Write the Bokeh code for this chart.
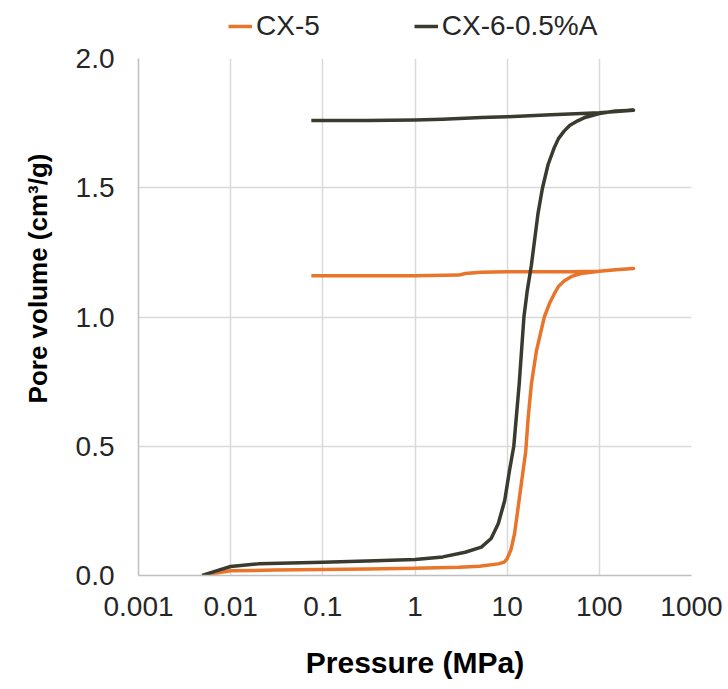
import numpy as np
from bokeh.plotting import figure
from bokeh.layouts import column
from bokeh.models import (Legend, LegendItem, FixedTicker, CustomJSTickFormatter,
                          NumeralTickFormatter, Range1d, Title)
from bokeh.embed import file_html
from bokeh.resources import INLINE

# ---------------- data ----------------
cx5_intr_p = [0.0055, 0.007, 0.01, 0.03, 0.1, 0.3, 1, 3, 5, 8, 9.3, 10, 11, 12, 13, 14.3, 15.9,
              16.9, 18.3, 20.8, 25.3, 29, 32.5, 36, 41.7, 50, 63, 100, 150, 235]
cx5_intr_v = [0.0, 0.01, 0.018, 0.021, 0.023, 0.025, 0.028, 0.032, 0.036, 0.045, 0.052, 0.065, 0.1,
              0.16, 0.25, 0.36, 0.48, 0.61, 0.74, 0.87, 1.0, 1.055, 1.09, 1.118, 1.14, 1.157,
              1.168, 1.177, 1.183, 1.188]
cx5_extr_p = [235, 150, 100, 50, 20, 10, 5.25, 3.5, 3, 1, 0.3, 0.075]
cx5_extr_v = [1.188, 1.183, 1.177, 1.175, 1.175, 1.175, 1.173, 1.168, 1.162, 1.16, 1.16, 1.16]

cx6_intr_p = [0.0049, 0.007, 0.01, 0.02, 0.1, 0.3, 1, 2, 3.5, 5.25, 6.7, 8.0, 9.4, 10.6, 11.8,
              13.5, 15.2, 16.5, 18.3, 21.6, 24.1, 27.8, 32.5, 36, 41.7, 48, 59, 70, 100, 150, 235]
cx6_intr_v = [0.0, 0.018, 0.035, 0.045, 0.051, 0.056, 0.062, 0.072, 0.09, 0.11, 0.143, 0.2, 0.29,
              0.406, 0.5, 0.74, 1.0, 1.1, 1.2, 1.4, 1.497, 1.59, 1.656, 1.69, 1.72, 1.742, 1.76,
              1.772, 1.787, 1.797, 1.80]
cx6_extr_p = [235, 100, 30, 10, 5.25, 2, 1, 0.3, 0.075]
cx6_extr_v = [1.80, 1.79, 1.782, 1.775, 1.772, 1.765, 1.762, 1.76, 1.76]

series_names = ["CX-5", "CX-6-0.5%A"]
series_colors = ["#E8752A", "#3A3A2E"]

x_ticks = [0.001, 0.01, 0.1, 1, 10, 100, 1000]
y_ticks = [0.0, 0.5, 1.0, 1.5, 2.0]

FONT = "Liberation Sans"

cx5_p = cx5_intr_p + cx5_extr_p
cx5_v = cx5_intr_v + cx5_extr_v
cx6_p = cx6_intr_p + cx6_extr_p
cx6_v = cx6_intr_v + cx6_extr_v

# ---------------- main plot ----------------
p = figure(x_axis_type="log",
           x_range=Range1d(0.001, 1000), y_range=Range1d(0, 2),
           output_backend="svg", toolbar_location=None,
           frame_width=553, frame_height=517,
           min_border_left=137, min_border_top=14, min_border_right=36, min_border_bottom=60)
p.outline_line_color = None
p.background_fill_color = "white"
p.border_fill_color = "white"

r1 = p.line(cx5_p, cx5_v, line_color=series_colors[0], line_width=3.5, line_join="round")
r2 = p.line(cx6_p, cx6_v, line_color=series_colors[1], line_width=3.5, line_join="round")

p.xaxis.ticker = FixedTicker(ticks=x_ticks, minor_ticks=[])
p.xaxis.formatter = CustomJSTickFormatter(code="""
    const e = Math.round(Math.log10(tick));
    const v = Math.pow(10, e);
    return e >= 0 ? v.toFixed(0) : v.toFixed(-e);
""")
p.yaxis.ticker = FixedTicker(ticks=y_ticks, minor_ticks=[])
p.yaxis.formatter = NumeralTickFormatter(format="0.0")

for ax in (p.xaxis[0], p.yaxis[0]):
    ax.major_tick_out = 0
    ax.major_tick_in = 0
    ax.minor_tick_out = 0
    ax.minor_tick_in = 0
    ax.major_label_text_font = FONT
    ax.major_label_text_font_size = "28px"
    ax.major_label_text_color = "#262626"
    ax.axis_line_color = "#BFBFBF"
    ax.axis_line_width = 1.5

p.xaxis.major_label_standoff = 21
p.yaxis.major_label_standoff = 24

p.xaxis.axis_label = "Pressure (MPa)"
p.xaxis.axis_label_text_font = FONT
p.xaxis.axis_label_text_font_style = "bold"
p.xaxis.axis_label_text_font_size = "30px"
p.xaxis.axis_label_text_color = "black"
p.xaxis.axis_label_standoff = 27

ytitle = Title(text="Pore volume (cm³/g)", align="right", offset=95,
               text_font=FONT, text_font_style="bold", text_font_size="26px",
               text_color="black")
if "standoff" in Title.properties():
    ytitle.standoff = 40
p.add_layout(ytitle, "left")

p.xgrid.ticker = FixedTicker(ticks=x_ticks)
p.ygrid.ticker = FixedTicker(ticks=y_ticks)
p.xgrid.grid_line_color = "#D9D9D9"
p.ygrid.grid_line_color = "#D9D9D9"
p.xgrid.grid_line_width = 1.5
p.ygrid.grid_line_width = 1.5

# ---------------- legend strip on top ----------------
lg = figure(x_axis_type="log", x_range=Range1d(0.001, 1000), y_range=Range1d(-2, -1),
            output_backend="svg", toolbar_location=None,
            frame_width=553, frame_height=44,
            min_border_left=137, min_border_right=36, min_border_top=0, min_border_bottom=0,
            x_axis_location=None, y_axis_location=None)
lg.outline_line_color = None
lg.xgrid.visible = False
lg.ygrid.visible = False
lg.border_fill_color = "white"
# same series drawn outside this strip's y-range: only their legend glyphs are visible
l1 = lg.line(cx5_p, cx5_v, line_color=series_colors[0], line_width=3.5)
l2 = lg.line(cx6_p, cx6_v, line_color=series_colors[1], line_width=3.5)
legend = Legend(items=[LegendItem(label=series_names[0], renderers=[l1]),
                       LegendItem(label=series_names[1], renderers=[l2])],
                orientation="horizontal", location=(90, 2),
                label_text_font=FONT, label_text_font_size="28px",
                label_text_color="#262626",
                glyph_width=24, label_standoff=4, spacing=94,
                padding=2, margin=0, border_line_color=None,
                background_fill_alpha=0)
lg.add_layout(legend)

layout = column(lg, p, spacing=0)
open("out.html", "w").write(file_html(layout, INLINE))
